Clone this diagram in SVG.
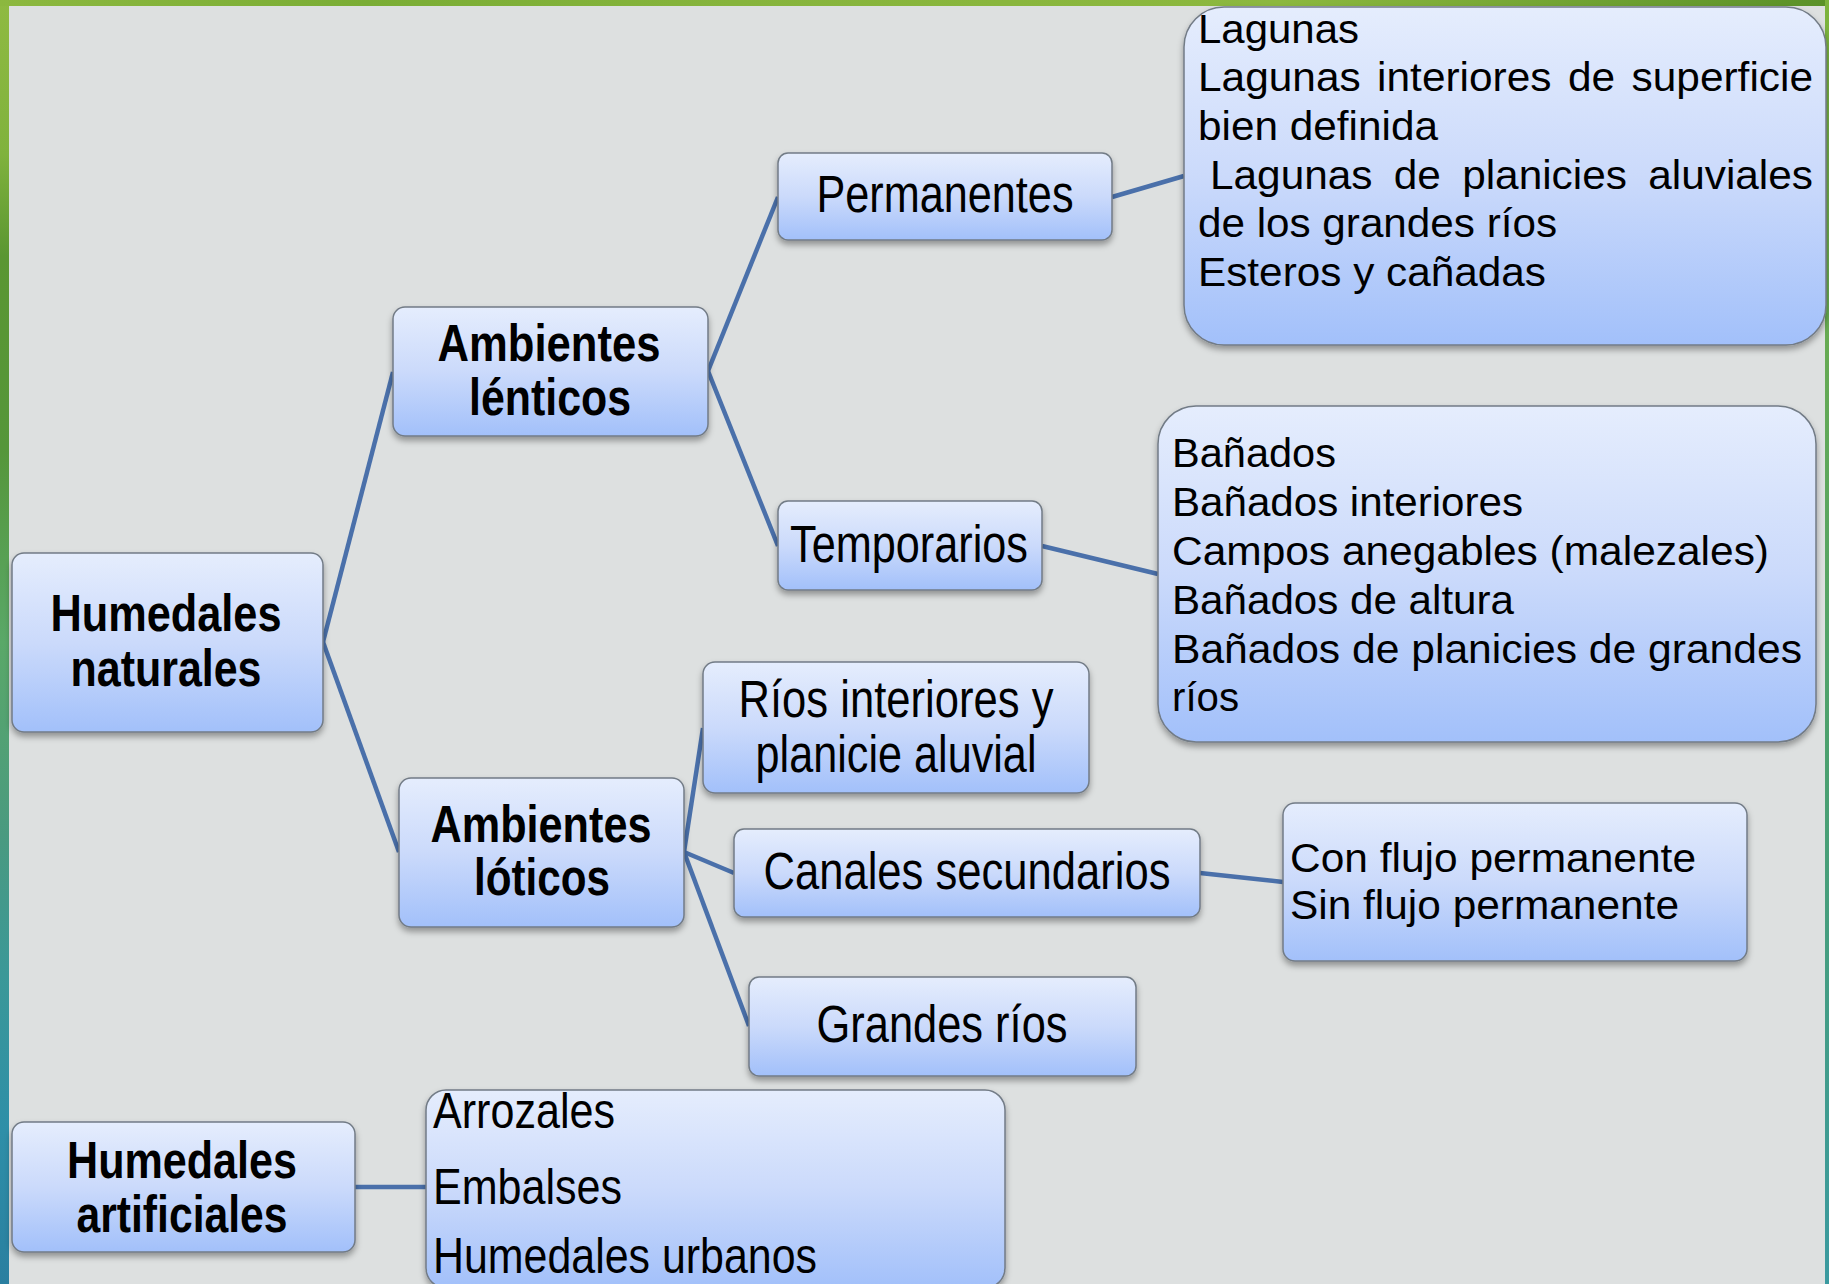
<svg xmlns="http://www.w3.org/2000/svg" width="1829" height="1284" viewBox="0 0 1829 1284">
<defs>
<linearGradient id="box" x1="0" y1="0" x2="0" y2="1">
<stop offset="0" stop-color="#e5edfd"/>
<stop offset="0.5" stop-color="#cbdafb"/>
<stop offset="1" stop-color="#a2c0fa"/>
</linearGradient>
<linearGradient id="leftEdge" x1="0" y1="0" x2="0" y2="1">
<stop offset="0" stop-color="#8fba42"/>
<stop offset="0.12" stop-color="#80b23d"/>
<stop offset="0.2" stop-color="#5a9632"/>
<stop offset="0.35" stop-color="#55963a"/>
<stop offset="0.5" stop-color="#5aa868"/>
<stop offset="0.65" stop-color="#4a9a80"/>
<stop offset="0.76" stop-color="#3b9898"/>
<stop offset="0.88" stop-color="#2e8fa8"/>
<stop offset="1" stop-color="#2a7fa0"/>
</linearGradient>
<linearGradient id="topEdge" x1="0" y1="0" x2="1" y2="0">
<stop offset="0" stop-color="#8cb83f"/>
<stop offset="0.2" stop-color="#7aad35"/>
<stop offset="0.4" stop-color="#86b43c"/>
<stop offset="0.7" stop-color="#8cb83e"/>
<stop offset="1" stop-color="#5a9128"/>
</linearGradient>
<linearGradient id="rightEdge" x1="0" y1="0" x2="0" y2="1">
<stop offset="0" stop-color="#7db33c"/>
<stop offset="0.6" stop-color="#4aa070"/>
<stop offset="1" stop-color="#3a9aa0"/>
</linearGradient>
<filter id="sh" x="-10%" y="-10%" width="120%" height="130%">
<feDropShadow dx="0" dy="4" stdDeviation="3" flood-color="#000" flood-opacity="0.35"/>
</filter>
<style>
.node rect{fill:url(#box);stroke:#727b86;stroke-width:1.5;filter:url(#sh)}
text{font-family:"Liberation Sans",Arial,sans-serif;fill:#000}
.b{font-weight:bold;font-size:52px;text-anchor:middle}
.n{font-size:51px;text-anchor:middle}
.l{font-size:40px}
.a{font-size:50px}
#connectors path{stroke:#4a70aa;stroke-width:4.5;fill:none}
</style>
</defs>
<rect x="0" y="0" width="1829" height="1284" fill="#dde0e0"/>
<rect x="0" y="0" width="9" height="1284" fill="url(#leftEdge)"/>
<rect x="0" y="0" width="1829" height="6" fill="url(#topEdge)"/>
<rect x="1825" y="0" width="4" height="1284" fill="url(#rightEdge)"/>

<g id="connectors">
<path d="M323,642 L393,372"/>
<path d="M323,642 L399,852"/>
<path d="M708,371 L778,197"/>
<path d="M708,371 L778,546"/>
<path d="M684,852 L703,728"/>
<path d="M684,852 L734,873"/>
<path d="M684,852 L749,1026"/>
<path d="M1112,197 L1184,176"/>
<path d="M1042,546 L1158,574"/>
<path d="M1200,873 L1283,882"/>
<path d="M355,1187 L426,1187"/>
</g>

<g id="humedales-naturales" class="node">
<rect x="12" y="553" width="311" height="179" rx="12"/>
<text class="b" x="166" y="631" textLength="231" lengthAdjust="spacingAndGlyphs">Humedales</text>
<text class="b" x="166" y="686" textLength="191" lengthAdjust="spacingAndGlyphs">naturales</text>
</g>

<g id="ambientes-lenticos" class="node">
<rect x="393" y="307" width="315" height="129" rx="12"/>
<text class="b" x="549" y="361" textLength="223" lengthAdjust="spacingAndGlyphs">Ambientes</text>
<text class="b" x="550" y="415" textLength="162" lengthAdjust="spacingAndGlyphs">lénticos</text>
</g>

<g id="permanentes" class="node">
<rect x="778" y="153" width="334" height="87" rx="10"/>
<text class="n" x="945" y="212" textLength="257" lengthAdjust="spacingAndGlyphs">Permanentes</text>
</g>

<g id="temporarios" class="node">
<rect x="778" y="501" width="264" height="89" rx="10"/>
<text class="n" x="909" y="562" textLength="238" lengthAdjust="spacingAndGlyphs">Temporarios</text>
</g>

<g id="lagunas" class="node">
<rect x="1184" y="7" width="642" height="338" rx="40"/>
<text class="l" x="1198" y="43" textLength="161" lengthAdjust="spacingAndGlyphs">Lagunas</text>
<text class="l" x="1198" y="91" textLength="615" lengthAdjust="spacingAndGlyphs" word-spacing="4.4">Lagunas interiores de superficie</text>
<text class="l" x="1198" y="140" textLength="240" lengthAdjust="spacingAndGlyphs">bien definida</text>
<text class="l" x="1210" y="189" textLength="603" lengthAdjust="spacingAndGlyphs" word-spacing="9">Lagunas de planicies aluviales</text>
<text class="l" x="1198" y="237" textLength="359" lengthAdjust="spacingAndGlyphs">de los grandes ríos</text>
<text class="l" x="1198" y="286" textLength="348" lengthAdjust="spacingAndGlyphs">Esteros y cañadas</text>
</g>

<g id="banados" class="node">
<rect x="1158" y="406" width="658" height="336" rx="38"/>
<text class="l" x="1172" y="467" textLength="164" lengthAdjust="spacingAndGlyphs">Bañados</text>
<text class="l" x="1172" y="516" textLength="351" lengthAdjust="spacingAndGlyphs">Bañados interiores</text>
<text class="l" x="1172" y="565" textLength="597" lengthAdjust="spacingAndGlyphs">Campos anegables (malezales)</text>
<text class="l" x="1172" y="614" textLength="342" lengthAdjust="spacingAndGlyphs">Bañados de altura</text>
<text class="l" x="1172" y="663" textLength="630" lengthAdjust="spacingAndGlyphs">Bañados de planicies de grandes</text>
<text class="l" x="1172" y="711" textLength="67" lengthAdjust="spacingAndGlyphs">ríos</text>
</g>

<g id="ambientes-loticos" class="node">
<rect x="399" y="778" width="285" height="149" rx="12"/>
<text class="b" x="541" y="842" textLength="221" lengthAdjust="spacingAndGlyphs">Ambientes</text>
<text class="b" x="542" y="895" textLength="136" lengthAdjust="spacingAndGlyphs">lóticos</text>
</g>

<g id="rios-interiores" class="node">
<rect x="703" y="662" width="386" height="131" rx="12"/>
<text class="n" x="896" y="717" textLength="315" lengthAdjust="spacingAndGlyphs">Ríos interiores y</text>
<text class="n" x="896" y="772" textLength="281" lengthAdjust="spacingAndGlyphs">planicie aluvial</text>
</g>

<g id="canales-secundarios" class="node">
<rect x="734" y="829" width="466" height="88" rx="10"/>
<text class="n" x="967" y="889" textLength="407" lengthAdjust="spacingAndGlyphs">Canales secundarios</text>
</g>

<g id="grandes-rios" class="node">
<rect x="749" y="977" width="387" height="99" rx="10"/>
<text class="n" x="942" y="1042" textLength="251" lengthAdjust="spacingAndGlyphs">Grandes ríos</text>
</g>

<g id="flujo" class="node">
<rect x="1283" y="803" width="464" height="158" rx="12"/>
<text class="l" x="1290" y="872" textLength="406" lengthAdjust="spacingAndGlyphs">Con flujo permanente</text>
<text class="l" x="1290" y="919" textLength="389" lengthAdjust="spacingAndGlyphs">Sin flujo permanente</text>
</g>

<g id="humedales-artificiales" class="node">
<rect x="12" y="1122" width="343" height="130" rx="12"/>
<text class="b" x="182" y="1178" textLength="230" lengthAdjust="spacingAndGlyphs">Humedales</text>
<text class="b" x="182" y="1232" textLength="211" lengthAdjust="spacingAndGlyphs">artificiales</text>
</g>

<g id="artificiales-lista" class="node">
<rect x="426" y="1090" width="579" height="198" rx="20"/>
<text class="a" x="433" y="1128" textLength="182" lengthAdjust="spacingAndGlyphs">Arrozales</text>
<text class="a" x="433" y="1204" textLength="189" lengthAdjust="spacingAndGlyphs">Embalses</text>
<text class="a" x="433" y="1273" textLength="384" lengthAdjust="spacingAndGlyphs">Humedales urbanos</text>
</g>
</svg>
